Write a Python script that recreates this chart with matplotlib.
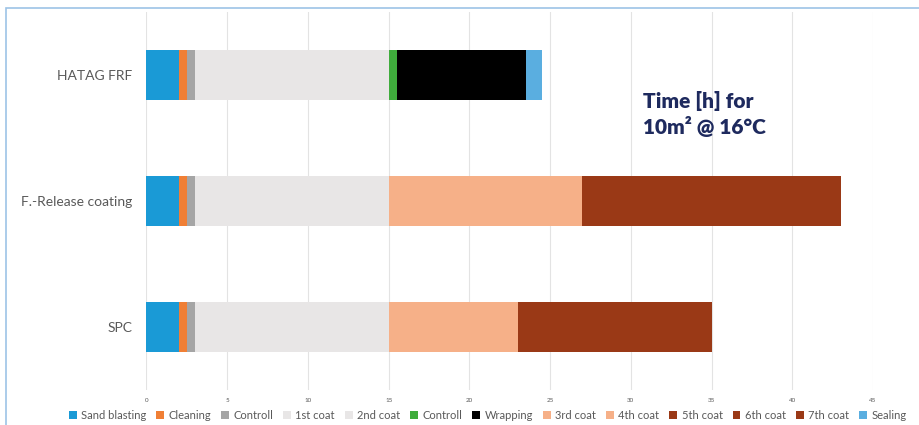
import matplotlib
matplotlib.use("Agg")
import matplotlib.pyplot as plt
from matplotlib.patches import Rectangle
import numpy as np

plt.rcParams['font.family'] = ['Lato', 'DejaVu Sans']

# categories, top to bottom
categories = ["HATAG FRF", "F.-Release coating", "SPC"]

# hours per step, one value per category
steps = ["Sand blasting", "Cleaning", "Controll", "1st coat", "2nd coat", "Controll",
         "Wrapping", "3rd coat", "4th coat", "5th coat", "6th coat", "7th coat", "Sealing"]
sand_blasting = [2, 2, 2]
cleaning = [0.5, 0.5, 0.5]
controll_1 = [0.5, 0.5, 0.5]
coat_1 = [6, 6, 6]
coat_2 = [6, 6, 6]
controll_2 = [0.5, 0, 0]
wrapping = [8, 0, 0]
coat_3 = [0, 6, 4]
coat_4 = [0, 6, 4]
coat_5 = [0, 6, 4]
coat_6 = [0, 6, 4]
coat_7 = [0, 4, 4]
sealing = [1, 0, 0]

series = [sand_blasting, cleaning, controll_1, coat_1, coat_2, controll_2, wrapping,
          coat_3, coat_4, coat_5, coat_6, coat_7, sealing]
colors = ["#1a9ad6", "#f07f35", "#a5a5a5", "#e8e6e6", "#e8e6e6", "#3fac3c", "#000000",
          "#f6b088", "#f6b088", "#9a3916", "#9a3916", "#9a3916", "#5aaee0"]

fig = plt.figure(figsize=(9.2, 4.25), dpi=100)
ax = fig.add_axes([146.5 / 920, 35 / 425, (873 - 146.5) / 920, 378 / 425])

y = np.arange(len(categories))
left = np.zeros(len(categories))
handles = []
for name, vals, c in zip(steps, series, colors):
    vals = np.array(vals, dtype=float)
    b = ax.barh(y, vals, left=left, height=0.395, color=c, linewidth=0, label=name, zorder=3)
    handles.append(b)
    left += vals

ax.set_xlim(0, 45)
ax.set_ylim(-0.5, 2.5)
ax.invert_yaxis()
ax.set_xticks(np.arange(0, 46, 5))
ax.set_yticks(y)
ax.set_yticklabels(categories, fontsize=10, color="#595959")
ax.tick_params(axis='y', length=0, pad=10)
ax.tick_params(axis='x', length=0, labelsize=4.5, labelcolor="#595959", pad=6)
ax.grid(axis='x', color="#e3e3e3", linewidth=0.8, zorder=0)
for s in ax.spines.values():
    s.set_visible(False)

ax.text(0.684, 0.792, "Time [h] for\n10m² @ 16°C", transform=ax.transAxes,
        fontsize=15, fontweight='heavy', color="#1e2a5e", linespacing=1.3,
        va='top', ha='left')

fig.legend(handles, steps, loc='center', bbox_to_anchor=(0.53, 0.022), ncol=13,
           frameon=False, fontsize=8, handlelength=0.7, handleheight=0.7,
           handletextpad=0.4, columnspacing=0.9, labelcolor="#595959")

# light blue frame on top and left
fig.patches.append(Rectangle((6 / 920, -0.1), 1.2, 1 - 7.5 / 425 + 0.1, transform=fig.transFigure,
                             fill=False, edgecolor="#9dc3e6", linewidth=1.2, figure=fig))

fig.savefig("out.png", dpi=100)
